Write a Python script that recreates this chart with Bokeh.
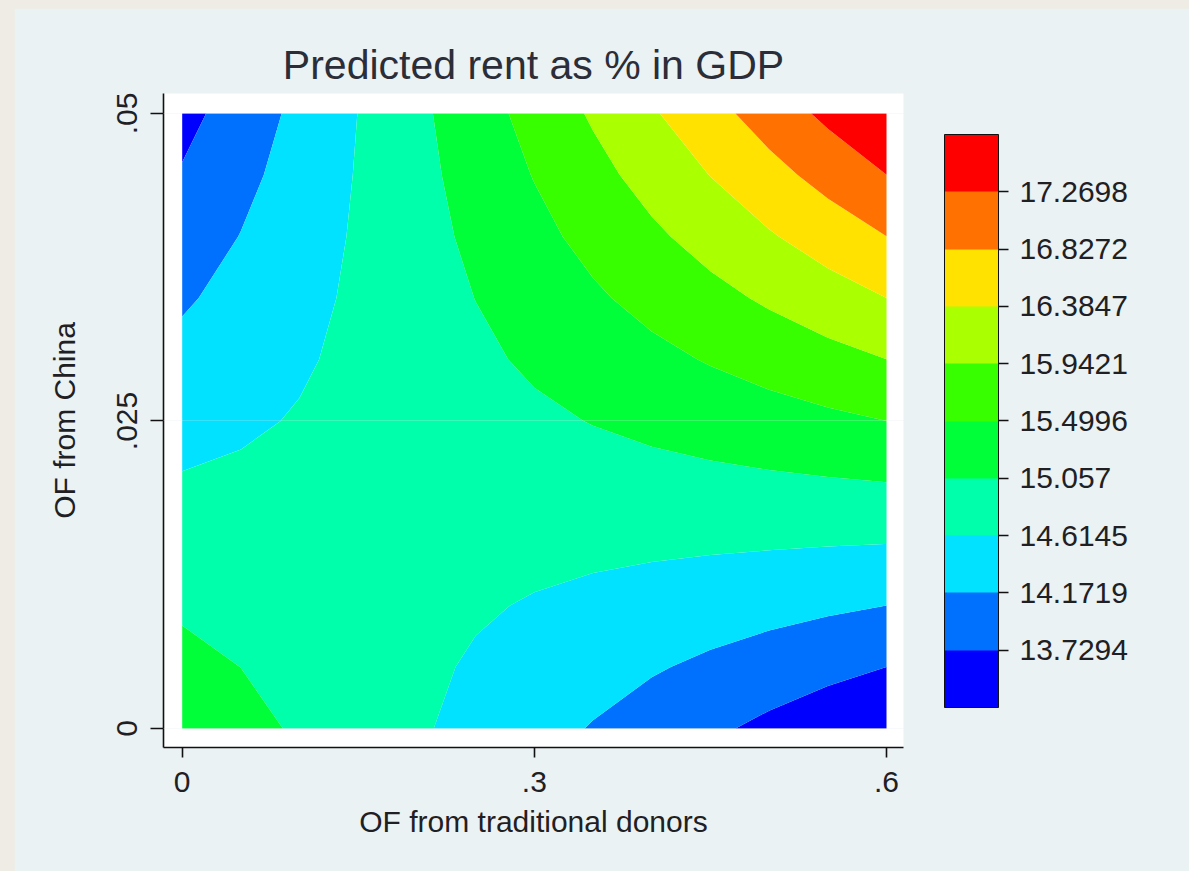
import numpy as np
from bokeh.plotting import figure
from bokeh.layouts import column
from bokeh.models import Range1d, FixedTicker, ColorBar, LinearColorMapper
from bokeh.embed import file_html
from bokeh.resources import INLINE

# ---------------- data ----------------
title_text = "Predicted rent as % in GDP"
x_title = "OF from traditional donors"
y_title = "OF from China"

# grid of predicted values: columns = OF from traditional donors, rows = OF from China
x_vals = [0.0, 0.05, 0.1, 0.15, 0.2, 0.25, 0.3, 0.35, 0.4, 0.45, 0.5, 0.55, 0.6]
y_vals = [0.0, 0.005, 0.01, 0.015, 0.02, 0.025, 0.03, 0.035, 0.04, 0.045, 0.05]
z_grid = [
    [15.352, 15.180, 15.008, 14.836, 14.664, 14.491, 14.319, 14.147, 13.975, 13.803, 13.631, 13.459, 13.287],
    [15.176, 15.055, 14.935, 14.814, 14.694, 14.573, 14.452, 14.332, 14.211, 14.091, 13.970, 13.850, 13.729],
    [15.000, 14.931, 14.862, 14.793, 14.724, 14.655, 14.586, 14.517, 14.448, 14.379, 14.310, 14.241, 14.172],
    [14.823, 14.806, 14.789, 14.771, 14.754, 14.736, 14.719, 14.701, 14.684, 14.666, 14.649, 14.631, 14.614],
    [14.647, 14.681, 14.715, 14.750, 14.784, 14.818, 14.852, 14.886, 14.920, 14.954, 14.988, 15.022, 15.056],
    [14.471, 14.557, 14.642, 14.728, 14.814, 14.899, 14.985, 15.071, 15.156, 15.242, 15.328, 15.413, 15.499],
    [14.295, 14.432, 14.569, 14.706, 14.844, 14.981, 15.118, 15.255, 15.392, 15.530, 15.667, 15.804, 15.941],
    [14.119, 14.307, 14.496, 14.685, 14.874, 15.062, 15.251, 15.440, 15.629, 15.817, 16.006, 16.195, 16.384],
    [13.942, 14.183, 14.423, 14.663, 14.904, 15.144, 15.384, 15.624, 15.865, 16.105, 16.345, 16.586, 16.826],
    [13.766, 14.058, 14.350, 14.642, 14.934, 15.225, 15.517, 15.809, 16.101, 16.393, 16.685, 16.977, 17.268],
    [13.590, 13.933, 14.277, 14.620, 14.964, 15.307, 15.650, 15.994, 16.337, 16.681, 17.024, 17.367, 17.711],
]

levels = [13.2868, 13.7294, 14.1719, 14.6145, 15.057, 15.4996,
          15.9421, 16.3847, 16.8272, 17.2698, 17.7123]
level_labels = ["13.7294", "14.1719", "14.6145", "15.057", "15.4996",
                "15.9421", "16.3847", "16.8272", "17.2698"]
band_colors = ["#0000ff", "#0071ff", "#00e2ff", "#00ffaa", "#00ff38",
               "#38ff00", "#aaff00", "#ffe200", "#ff7100", "#ff0000"]

x_ticks = [0.0, 0.3, 0.6]
x_tick_labels = ["0", ".3", ".6"]
y_ticks = [0.0, 0.025, 0.05]
y_tick_labels = ["0", ".025", ".05"]

# ---------------- styling ----------------
FONT = "Liberation Sans"
TEXT = "#1f2024"
GRAPH_BG = "#eaf2f3"
PAGE_BG = "#efece6"

p = figure(
    width=1175, height=863,
    x_range=Range1d(-0.01593, 0.61448),
    y_range=Range1d(-0.001545, 0.051626),
    output_backend="svg", toolbar_location=None,
    min_border_left=149, min_border_right=286,
    min_border_top=85, min_border_bottom=124,
    title=title_text,
)
p.margin = (8, 0, 0, 14)
p.border_fill_color = GRAPH_BG
p.background_fill_color = "white"
p.outline_line_color = None

p.title.text_font = FONT
p.title.text_font_size = "41px"
p.title.text_font_style = "normal"
p.title.text_color = "#2b2d38"
p.title.align = "center"
p.title.standoff = 11

p.contour(x=x_vals, y=y_vals, z=np.array(z_grid), levels=levels,
          fill_color=band_colors, line_color=None)

# axes
for ax in (p.xaxis[0], p.yaxis[0]):
    ax.axis_line_color = "#111111"
    ax.axis_line_width = 1.6
    ax.major_tick_line_color = "#111111"
    ax.major_tick_line_width = 1.6
    ax.major_tick_in = 0
    ax.minor_tick_line_color = None
    ax.major_label_text_font = FONT
    ax.major_label_text_font_size = "30px"
    ax.major_label_text_color = TEXT
    ax.axis_label_text_font = FONT
    ax.axis_label_text_font_size = "30px"
    ax.axis_label_text_font_style = "normal"
    ax.axis_label_text_color = TEXT

p.xaxis.ticker = FixedTicker(ticks=x_ticks)
p.xaxis.major_label_overrides = dict(zip(x_ticks, x_tick_labels))
p.xaxis.axis_label = x_title
p.xaxis.major_tick_out = 10
p.xaxis.major_label_standoff = 14
p.xaxis.axis_label_standoff = 10

p.yaxis.ticker = FixedTicker(ticks=y_ticks)
p.yaxis.major_label_overrides = dict(zip(y_ticks, y_tick_labels))
p.yaxis.axis_label = y_title
p.yaxis.major_tick_out = 13
p.yaxis.major_label_orientation = "vertical"
p.yaxis.major_label_standoff = 13
p.yaxis.axis_label_standoff = 34

p.xgrid.visible = False
p.ygrid.ticker = FixedTicker(ticks=y_ticks)
p.ygrid.grid_line_color = "#dfe7ea"
p.ygrid.grid_line_alpha = 0.25
p.ygrid.level = "guide"

# colour legend
mapper = LinearColorMapper(palette=band_colors, low=levels[0], high=levels[-1])
cb = ColorBar(
    color_mapper=mapper,
    ticker=FixedTicker(ticks=levels[1:-1]),
    major_label_overrides=dict(zip(levels[1:-1], level_labels)),
    width=54, height=573,
    location="top_left", margin=0, padding=41,
    major_tick_out=10, major_tick_in=0,
    major_tick_line_color="#111111", major_tick_line_width=1.5,
    minor_tick_line_color=None,
    major_label_text_font=FONT, major_label_text_font_size="30px",
    major_label_text_color=TEXT,
    label_standoff=11,
    bar_line_color="#111111", bar_line_width=1,
    background_fill_alpha=0, border_line_color=None,
)
p.add_layout(cb, "right")

page = column(p, styles={"background-color": PAGE_BG})

open("out.html", "w").write(file_html(page, INLINE, title="Predicted rent as % in GDP"))
